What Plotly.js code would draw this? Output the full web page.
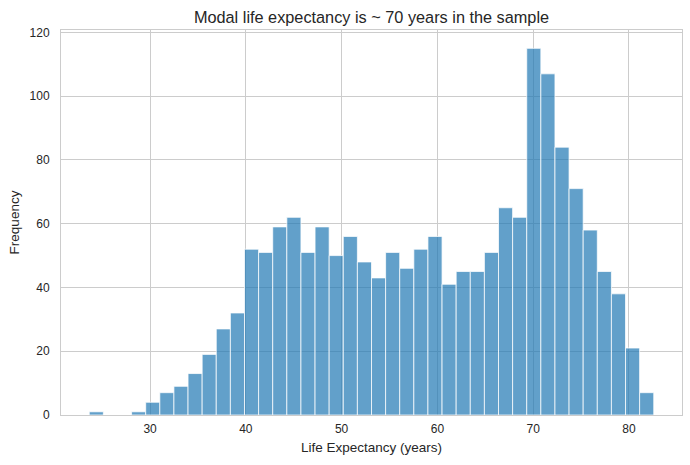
<!DOCTYPE html>
<html>
<head>
<meta charset="utf-8">
<script src="https://cdn.plot.ly/plotly-3.0.1.min.js"></script>
<style>html,body{margin:0;padding:0;background:#fff;}#chart{width:690px;height:465px;}</style>
</head>
<body>
<div id="chart"></div>
<script>
// Histogram bins (life expectancy, years)
const binStart = 23.65;
const binWidth = 1.4735;
const counts = [1, 0, 0, 1, 4, 7, 9, 13, 19, 27,
                32, 52, 51, 59, 62, 51, 59, 50, 56, 48,
                43, 51, 46, 52, 56, 41, 45, 45, 51, 65,
                62, 115, 107, 84, 71, 58, 45, 38, 21, 7];
const xTicks = [30, 40, 50, 60, 70, 80];
const yTicks = [0, 20, 40, 60, 80, 100, 120];

const centers = counts.map((_, i) => binStart + binWidth * (i + 0.5));
const font = 'Liberation Sans, Arial, sans-serif';

const trace = {
  type: 'bar',
  x: centers,
  y: counts,
  width: binWidth,
  marker: {color: 'rgba(31,119,180,0.7)', line: {color: 'rgba(255,255,255,0.75)', width: 1}},
  hoverinfo: 'x+y'
};

const layout = {
  width: 690, height: 465,
  margin: {l: 61, r: 8, t: 30, b: 50},
  paper_bgcolor: '#ffffff', plot_bgcolor: '#ffffff',
  showlegend: false,
  bargap: 0,
  font: {family: font, color: '#262626', size: 12},
  title: {text: 'Modal life expectancy is ~ 70 years in the sample', font: {family: font, size: 16.3, color: '#262626'},
          x: 0.5, xanchor: 'center', xref: 'paper', y: 0.963, yanchor: 'middle', yref: 'container'},
  xaxis: {
    range: [20.70, 85.54], tickvals: xTicks, ticktext: xTicks.map(String),
    showgrid: true, gridcolor: '#cccccc', gridwidth: 1, zeroline: false,
    showline: true, linecolor: '#cccccc', linewidth: 1, mirror: true, ticks: '',
    ticklabelstandoff: 3,
    tickfont: {size: 12, color: '#262626'},
    title: {text: 'Life Expectancy (years)', font: {size: 13.5, color: '#262626'}, standoff: 7}
  },
  yaxis: {
    range: [0, 120.75], tickvals: yTicks, ticktext: yTicks.map(String),
    showgrid: true, gridcolor: '#cccccc', gridwidth: 1, zeroline: false,
    showline: true, linecolor: '#cccccc', linewidth: 1, mirror: true, ticks: '',
    ticklabelstandoff: 8,
    tickfont: {size: 12, color: '#262626'},
    title: {text: 'Frequency', font: {size: 13.5, color: '#262626'}, standoff: 6}
  }
};

Plotly.newPlot('chart', [trace], layout, {displayModeBar: false, staticPlot: true});
</script>
</body>
</html>
